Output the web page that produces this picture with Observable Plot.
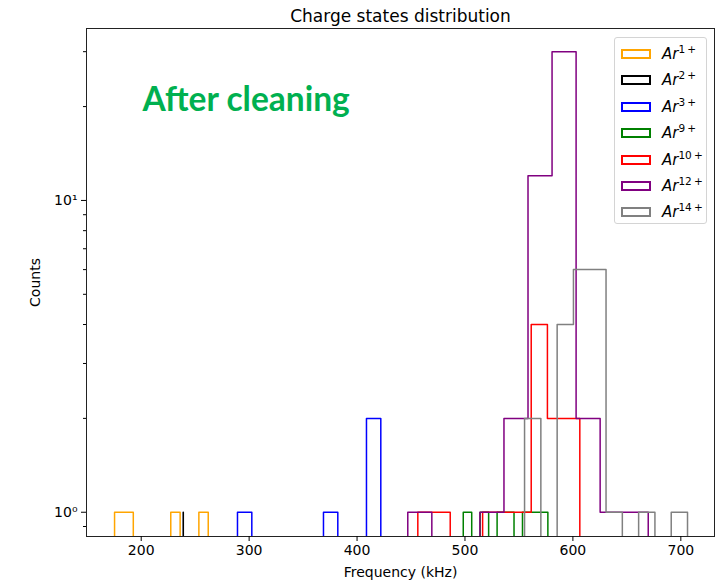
<!DOCTYPE html>
<html>
<head>
<meta charset="utf-8">
<script src="https://cdn.jsdelivr.net/npm/d3@7"></script>
<script src="https://cdn.jsdelivr.net/npm/@observablehq/plot@0.6"></script>
<style>
  body { margin: 0; background: white; }
  #wrap { position: relative; width: 728px; height: 584px; }
  #legend { position: absolute; left: 614px; top: 37px; width: 93px; height: 187px;
    border: 1px solid #d4d4d4; border-radius: 3px; background: rgba(255,255,255,0.85);
    font-family: "DejaVu Sans"; font-size: 15px; box-sizing: border-box; }
  .row { position: absolute; left: 0; height: 20px; display: flex; align-items: center; }
  .patch { width: 26px; height: 6px; margin-left: 6px; margin-right: 11px; border-style: solid; border-width: 2px; }
  .lab { white-space: nowrap; }
  .lab i { font-style: italic; }
  .lab sup { font-size: 10.5px; vertical-align: 6px; line-height: 0; }
</style>
</head>
<body>
<div id="wrap"></div>
<script>
// ---- data ----
const seriesNames = ["1+", "2+", "3+", "9+", "10+", "12+", "14+"];
const seriesColors = ["orange", "black", "blue", "green", "red", "purple", "gray"];
// histogram range (kHz) per series, 10 equal bins each
const binLo = [175.3, 238.4, 289.2, 498.4, 456.3, 447.0, 555.2];
const binHi = [262.1, 239.4, 422.0, 576.8, 606.4, 669.8, 706.2];
const binCounts = [
  [1, 1, 0, 0, 0, 0, 1, 0, 0, 1],
  [0, 0, 0, 0, 0, 1, 0, 0, 0, 0],
  [1, 0, 0, 0, 0, 0, 1, 0, 0, 2],
  [1, 0, 1, 0, 1, 1, 0, 1, 1, 1],
  [1, 1, 0, 0, 1, 1, 1, 4, 2, 2],
  [1, 0, 0, 1, 2, 12, 30, 2, 1, 1],
  [2, 0, 4, 6, 6, 1, 0, 1, 0, 1]
];
const xTicks = [200, 300, 400, 500, 600, 700];
const yMajorTicks = [1, 10];
const yMinorTicks = [0.9, 2, 3, 4, 5, 6, 7, 8, 9, 20, 30];
const xDomain = [149.3, 731.2];
const yDomain = [0.836, 35.6];

// ---- build step outlines ----
const base = 0.1; // below the visible domain; clipped by the frame
function stepPoints(i) {
  const n = binCounts[i].length;
  const w = (binHi[i] - binLo[i]) / n;
  const pts = [];
  const e = k => binLo[i] + k * w;
  pts.push({x: e(0), y: base});
  for (let k = 0; k < n; k++) {
    const c = binCounts[i][k] > 0 ? binCounts[i][k] : base;
    pts.push({x: e(k), y: c});
    pts.push({x: e(k + 1), y: c});
  }
  pts.push({x: e(n), y: base});
  return pts;
}

const supDigits = {"0": "⁰", "1": "¹", "2": "²", "3": "³"};
const lines = seriesNames.map((s, i) =>
  Plot.line(stepPoints(i), {x: "x", y: "y", stroke: seriesColors[i], strokeWidth: 1.5, clip: true})
);

const chart = Plot.plot({
  width: 728,
  height: 584,
  marginTop: 28,
  marginBottom: 48,
  marginLeft: 86,
  marginRight: 14,
  style: {fontFamily: "DejaVu Sans", fontSize: "14px", background: "white", color: "black"},
  x: {domain: xDomain},
  y: {type: "log", domain: yDomain},
  marks: [
    ...lines,
    Plot.frame({stroke: "#222", strokeWidth: 1}),
    Plot.axisX({ticks: xTicks, tickSize: 5, tickPadding: 4, fontSize: 14,
      label: "Frequency (kHz)", labelAnchor: "center", labelArrow: "none", labelOffset: 40}),
    Plot.axisY({ticks: yMajorTicks, tickSize: 5, tickPadding: 4, fontSize: 14,
      tickFormat: d => "10" + supDigits[String(Math.round(Math.log10(d)))],
      label: "Counts", labelAnchor: "center", labelArrow: "none", labelOffset: 56}),
    Plot.axisY({ticks: yMinorTicks, tickSize: 3, tickFormat: () => "", label: null}),
    Plot.text(["Charge states distribution"], {frameAnchor: "top", dy: -7, lineAnchor: "bottom", fontSize: 17}),
    Plot.text(["After cleaning"], {frameAnchor: "top-left", dx: 56, dy: 82, lineAnchor: "bottom",
      textAnchor: "start", fontSize: 33.5, fontWeight: "bold", fill: "#00B050", fontFamily: "Lato"})
  ]
});

const wrap = document.getElementById("wrap");
wrap.appendChild(chart);

// legend
const legend = document.createElement("div");
legend.id = "legend";
seriesNames.forEach((s, i) => {
  const row = document.createElement("div");
  row.className = "row";
  row.style.top = Math.round(6 + i * 26.4) + "px";
  const patch = document.createElement("div");
  patch.className = "patch";
  patch.style.borderColor = seriesColors[i];
  const lab = document.createElement("span");
  lab.className = "lab";
  lab.innerHTML = "<i>Ar</i><sup>" + s.replace("+", "\u2009+") + "</sup>";
  row.appendChild(patch);
  row.appendChild(lab);
  legend.appendChild(row);
});
wrap.appendChild(legend);
</script>
</body>
</html>
